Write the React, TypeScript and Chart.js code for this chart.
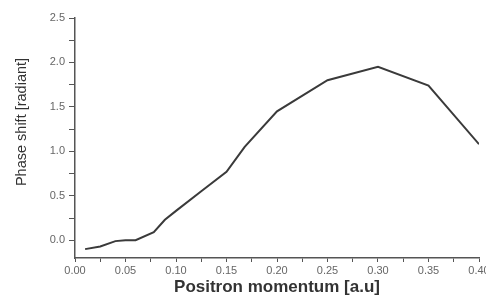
import React, { useEffect, useRef } from "react";
import { Chart, registerables } from "chart.js";

Chart.register(...registerables);

const momentum = [0.01, 0.025, 0.04, 0.05, 0.06, 0.078, 0.089, 0.1, 0.125, 0.15, 0.168, 0.2, 0.25, 0.3, 0.35, 0.4];
const phaseShift = [-0.1, -0.07, -0.01, 0.0, 0.0, 0.09, 0.23, 0.33, 0.55, 0.77, 1.05, 1.45, 1.8, 1.95, 1.74, 1.08];
const xTitle = "Positron momentum [a.u]";
const yTitle = "Phase shift [radiant]";

const yTitlePlugin = {
  id: "yTitlePlugin",
  afterDraw(chart: any) {
    const ctx = chart.ctx;
    ctx.save();
    ctx.translate(22, 122);
    ctx.rotate(-Math.PI / 2);
    ctx.fillStyle = "#333";
    ctx.font = "14.5px 'Liberation Sans'";
    ctx.textAlign = "center";
    ctx.textBaseline = "middle";
    ctx.fillText(yTitle, 0, 0);
    ctx.restore();
  },
};

export default function App() {
  const ref = useRef<HTMLCanvasElement>(null);
  useEffect(() => {
    if (!ref.current) return;
    const chart = new Chart(ref.current, {
      type: "line",
      data: {
        datasets: [
          {
            data: momentum.map((x, i) => ({ x, y: phaseShift[i] })),
            borderColor: "#3a3a3a",
            borderWidth: 2,
            pointRadius: 0,
            tension: 0,
          },
        ],
      },
      plugins: [yTitlePlugin],
      options: {
        animation: false,
        responsive: false,
        maintainAspectRatio: false,
        layout: { padding: { top: 18, right: 7, left: 0, bottom: 0 } },
        plugins: { legend: { display: false }, tooltip: { enabled: false } },
        scales: {
          x: {
            type: "linear",
            min: 0,
            max: 0.4,
            border: { display: true, color: "#555", width: 1.5 },
            grid: { drawOnChartArea: false, drawTicks: true, tickLength: 4, color: "#555" },
            ticks: {
              stepSize: 0.025,
              autoSkip: false,
              maxRotation: 0,
              color: "#666",
              font: { family: "Liberation Sans", size: 11 },
              padding: 2,
              callback: (v: any) => {
                const n = Math.round(Number(v) * 1000);
                return n % 50 === 0 ? (n / 1000).toFixed(2) : "";
              },
            },
            title: {
              display: true,
              text: xTitle,
              color: "#333",
              font: { family: "Liberation Sans", size: 17, weight: "bold" },
              padding: { top: 1, bottom: 0 },
            },
            afterFit: (s: any) => {
              s.paddingRight = 0;
              s.paddingLeft = 0;
              s.height = 40;
            },
          },
          y: {
            min: -0.2,
            max: 2.5,
            border: { display: true, color: "#555", width: 1.5 },
            grid: { drawOnChartArea: false, drawTicks: true, tickLength: 6, color: "#555" },
            afterBuildTicks: (s: any) => {
              const t = [];
              for (let v = -0.25; v <= 2.5001; v += 0.25) {
                if (v >= -0.2) t.push({ value: Math.round(v * 100) / 100 });
              }
              s.ticks = t;
            },
            ticks: {
              autoSkip: false,
              color: "#666",
              font: { family: "Liberation Sans", size: 11 },
              padding: 4,
              callback: (v: any) => {
                const n = Math.round(Number(v) * 100);
                return n % 50 === 0 ? (n / 100).toFixed(1) : "";
              },
            },
            afterFit: (s: any) => {
              s.width = 75;
              s.paddingTop = 0;
              s.paddingBottom = 0;
            },
          },
        },
      },
    });
    return () => chart.destroy();
  }, []);
  return (
    <div style={{ position: "fixed", left: 0, top: 0, width: 486, height: 298, background: "#fff" }}>
      <canvas ref={ref} width={486} height={298} style={{ width: 486, height: 298 }} />
    </div>
  );
}
